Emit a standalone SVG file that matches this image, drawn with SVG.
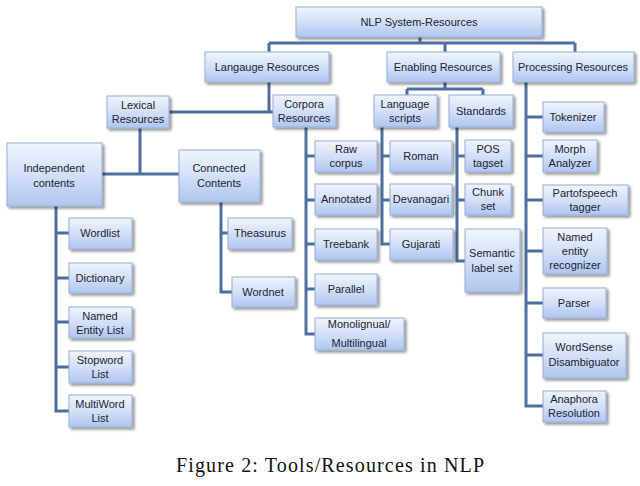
<svg xmlns="http://www.w3.org/2000/svg" width="640" height="486" viewBox="0 0 640 486">
<defs>
<linearGradient id="g" x1="0" y1="0" x2="0" y2="1">
<stop offset="0" stop-color="#f0f4fd"/>
<stop offset="0.5" stop-color="#d3e0f8"/>
<stop offset="1" stop-color="#afc6f0"/>
</linearGradient>
<filter id="sh" x="-20%" y="-20%" width="150%" height="160%">
<feGaussianBlur in="SourceAlpha" stdDeviation="1.5"/>
<feOffset dx="2" dy="2" result="b"/>
<feComponentTransfer><feFuncA type="linear" slope="0.45"/></feComponentTransfer>
<feMerge><feMergeNode/><feMergeNode in="SourceGraphic"/></feMerge>
</filter>
</defs>
<style>
.b{fill:url(#g);stroke:#97aed6;stroke-width:1;filter:url(#sh)}
.t{font-family:"Liberation Sans",Arial,sans-serif;font-size:11px;fill:#1b2433;text-anchor:middle}
.c{fill:none;stroke:#4d6e9e;stroke-width:3;stroke-linejoin:miter}
.cap{font-family:"Liberation Serif","Times New Roman",serif;font-size:20px;fill:#111;text-anchor:middle}
</style>
<rect width="640" height="486" fill="#fff"/>
<g id="connectors">
<path class="c" d="M420 37V43M269 43H575M269 43V52M445 43V52M575 43V52"/>
<path class="c" d="M269 82V112M169 112H273"/>
<path class="c" d="M140 128V174M102 174H179"/>
<path class="c" d="M56 206V411H69M56 233H69M56 278H69M56 322H69M56 367H69"/>
<path class="c" d="M221 202V292H232M221 233H228"/>
<path class="c" d="M306 127V334H315M306 156H315M306 200H315M306 244H315M306 289H315"/>
<path class="c" d="M445 82V89M407 89H483M407 89V95M483 89V95"/>
<path class="c" d="M382 127V244H390M382 156H390M382 200H390"/>
<path class="c" d="M457 127V261H465M457 156H465M457 200H465"/>
<path class="c" d="M526 82V406H543M526 117H543M526 156H543M526 200H543M526 251H543M526 303H543M526 355H543"/>
</g>
<g id="n-root"><rect class="b" x="296" y="7" width="246" height="30"/><text class="t" x="419" y="26">NLP System-Resources</text></g>
<g id="n-lang"><rect class="b" x="205" y="52" width="124" height="30"/><text class="t" x="267" y="71">Langauge  Resources</text></g>
<g id="n-enab"><rect class="b" x="387" y="52" width="113" height="30"/><text class="t" x="443" y="71">Enabling Resources</text></g>
<g id="n-proc"><rect class="b" x="513" y="52" width="121" height="30"/><text class="t" x="573" y="71">Processing Resources</text></g>
<g id="n-lexical"><rect class="b" x="107" y="96" width="62" height="32"/><text class="t" x="138" y="109">Lexical</text><text class="t" x="138" y="123">Resources</text></g>
<g id="n-corpora"><rect class="b" x="273" y="95" width="63" height="32"/><text class="t" x="304" y="108">Corpora</text><text class="t" x="304" y="122">Resources</text></g>
<g id="n-scripts"><rect class="b" x="374" y="95" width="63" height="32"/><text class="t" x="405" y="108">Language</text><text class="t" x="405" y="122">scripts</text></g>
<g id="n-standards"><rect class="b" x="449" y="95" width="64" height="32"/><text class="t" x="481" y="115">Standards</text></g>
<g id="n-indep"><rect class="b" x="7" y="143" width="95" height="63"/><text class="t" x="54" y="172">Independent</text><text class="t" x="54" y="187">contents</text></g>
<g id="n-conn"><rect class="b" x="179" y="150" width="81" height="52"/><text class="t" x="219" y="172">Connected</text><text class="t" x="219" y="187">Contents</text></g>
<g id="n-wordlist"><rect class="b" x="69" y="218" width="63" height="31"/><text class="t" x="100" y="237">Wordlist</text></g>
<g id="n-dict"><rect class="b" x="69" y="263" width="63" height="30"/><text class="t" x="100" y="282">Dictionary</text></g>
<g id="n-nel"><rect class="b" x="69" y="307" width="63" height="31"/><text class="t" x="100" y="320">Named</text><text class="t" x="100" y="334">Entity List</text></g>
<g id="n-stop"><rect class="b" x="69" y="351" width="63" height="32"/><text class="t" x="100" y="364">Stopword</text><text class="t" x="100" y="378">List</text></g>
<g id="n-multi"><rect class="b" x="69" y="395" width="63" height="32"/><text class="t" x="100" y="408">MultiWord</text><text class="t" x="100" y="422">List</text></g>
<g id="n-thes"><rect class="b" x="228" y="218" width="64" height="31"/><text class="t" x="260" y="237">Theasurus</text></g>
<g id="n-wordnet"><rect class="b" x="232" y="277" width="63" height="30"/><text class="t" x="263" y="296">Wordnet</text></g>
<g id="n-raw"><rect class="b" x="315" y="141" width="62" height="31"/><text class="t" x="346" y="153">Raw</text><text class="t" x="346" y="167">corpus</text></g>
<g id="n-annot"><rect class="b" x="315" y="184" width="62" height="31"/><text class="t" x="346" y="203">Annotated</text></g>
<g id="n-tree"><rect class="b" x="315" y="229" width="62" height="31"/><text class="t" x="346" y="248">Treebank</text></g>
<g id="n-par"><rect class="b" x="315" y="274" width="62" height="31"/><text class="t" x="346" y="293">Parallel</text></g>
<g id="n-mono"><rect class="b" x="315" y="318" width="89" height="32"/><text class="t" x="359" y="328">Monolignual/</text><text class="t" x="359" y="347">Multilingual</text></g>
<g id="n-roman"><rect class="b" x="390" y="141" width="62" height="31"/><text class="t" x="421" y="160">Roman</text></g>
<g id="n-deva"><rect class="b" x="390" y="184" width="62" height="31"/><text class="t" x="421" y="203">Devanagari</text></g>
<g id="n-guj"><rect class="b" x="390" y="229" width="63" height="31"/><text class="t" x="421" y="248">Gujarati</text></g>
<g id="n-pos"><rect class="b" x="465" y="140" width="46" height="32"/><text class="t" x="488" y="153">POS</text><text class="t" x="488" y="167">tagset</text></g>
<g id="n-chunk"><rect class="b" x="465" y="184" width="46" height="31"/><text class="t" x="488" y="196">Chunk</text><text class="t" x="488" y="210">set</text></g>
<g id="n-sem"><rect class="b" x="465" y="229" width="55" height="63"/><text class="t" x="492" y="257">Semantic</text><text class="t" x="492" y="272">label set</text></g>
<g id="n-tok"><rect class="b" x="543" y="102" width="61" height="30"/><text class="t" x="573" y="121">Tokenizer</text></g>
<g id="n-morph"><rect class="b" x="543" y="140" width="54" height="32"/><text class="t" x="570" y="153">Morph</text><text class="t" x="570" y="167">Analyzer</text></g>
<g id="n-postag"><rect class="b" x="543" y="185" width="85" height="30"/><text class="t" x="585" y="197">Partofspeech</text><text class="t" x="585" y="211">tagger</text></g>
<g id="n-ner"><rect class="b" x="543" y="228" width="64" height="46"/><text class="t" x="575" y="241">Named</text><text class="t" x="575" y="255">entity</text><text class="t" x="575" y="269">recognizer</text></g>
<g id="n-parser"><rect class="b" x="543" y="288" width="63" height="30"/><text class="t" x="574" y="307">Parser</text></g>
<g id="n-wsd"><rect class="b" x="543" y="333" width="83" height="45"/><text class="t" x="584" y="351">WordSense</text><text class="t" x="584" y="366">Disambiguator</text></g>
<g id="n-ana"><rect class="b" x="543" y="391" width="63" height="31"/><text class="t" x="574" y="403">Anaphora</text><text class="t" x="574" y="417">Resolution</text></g>
<text class="cap" x="330" y="472" textLength="308" lengthAdjust="spacing">Figure 2:  Tools/Resources in NLP</text>
</svg>
